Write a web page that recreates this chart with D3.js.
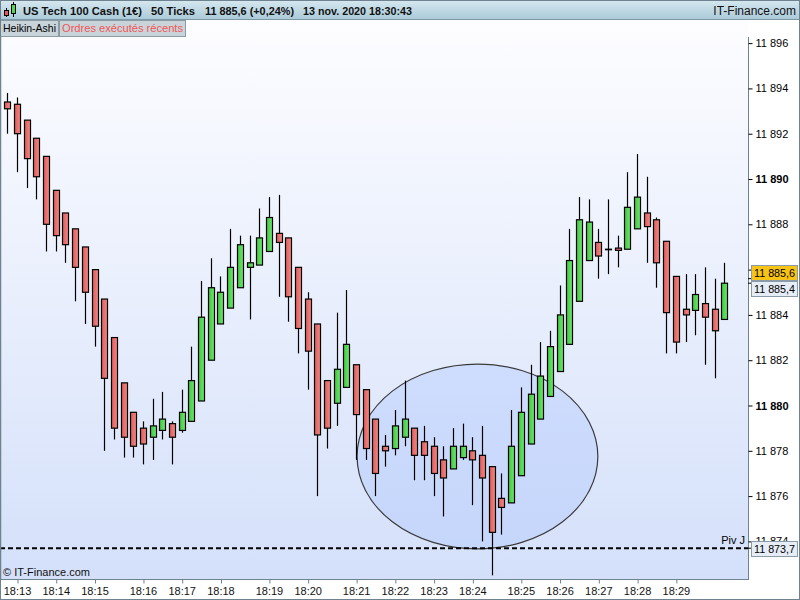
<!DOCTYPE html>
<html><head><meta charset="utf-8">
<script src="https://cdn.jsdelivr.net/npm/d3@7"></script>
<style>body{margin:0;background:#fff;}svg{display:block;font-family:Arial,"Liberation Sans",sans-serif;}</style>
</head><body><svg id="c" width="800" height="600"></svg>
<script>
// ---- data (Heikin-Ashi candles, 50 ticks each) ----
const opens = [11893.4,11893.3,11892.6,11891.8,11891.0,11889.5,11888.5,11887.8,11887.0,11886.0,
11884.7,11883.0,11881.0,11879.7,11879.0,11878.6,11878.9,11879.2,11878.9,11879.3,
11880.2,11882.0,11883.6,11884.3,11885.2,11886.1,11886.2,11886.8,11887.6,11887.4,
11886.1,11884.7,11883.6,11881.1,11880.1,11880.8,11881.8,11880.7,11879.4,11878.2,
11878.1,11878.6,11879.0,11878.4,11878.2,11877.6,11877.2,11877.7,11878.0,11877.8,
11877.3,11875.9,11875.7,11876.9,11878.3,11879.4,11880.4,11881.5,11882.7,11884.6,
11886.4,11887.2,11886.9,11886.95,11886.9,11887.8,11888.5,11888.2,11887.25,11885.7,
11884.25,11884.2,11884.5,11884.25,11883.8];
const closes = [11893.1,11892.0,11890.9,11890.1,11888.0,11887.5,11887.1,11886.1,11885.0,11883.5,
11881.2,11879.0,11878.6,11878.2,11878.3,11879.1,11879.4,11878.6,11879.7,11881.1,
11883.9,11885.2,11885.0,11886.1,11887.1,11886.3,11887.4,11888.3,11887.2,11884.8,
11883.4,11882.4,11878.7,11879.0,11881.6,11882.7,11879.6,11878.1,11877.0,11878.0,
11879.1,11879.4,11877.8,11877.8,11877.0,11876.8,11878.2,11878.2,11877.6,11876.8,
11874.4,11875.5,11878.2,11879.7,11880.5,11881.3,11882.6,11884.0,11886.4,11888.2,
11888.1,11886.6,11886.9,11886.85,11888.75,11889.2,11887.9,11886.3,11884.1,11882.8,
11884.0,11884.9,11883.9,11883.3,11885.4];
const highs = [11893.8,11893.6,11892.6,11891.8,11891.0,11889.5,11888.5,11887.8,11887.0,11886.0,
11884.7,11883.0,11881.0,11879.7,11879.3,11880.3,11880.6,11879.3,11880.7,11882.6,
11885.5,11886.5,11885.7,11887.8,11887.5,11887.5,11888.7,11889.2,11889.3,11887.4,
11886.1,11885.0,11883.6,11881.1,11884.1,11885.1,11881.8,11880.7,11879.4,11878.7,
11879.8,11881.1,11879.0,11879.1,11878.6,11878.2,11879.0,11879.2,11878.6,11879.1,
11877.3,11877.0,11879.8,11880.8,11881.8,11882.8,11883.3,11885.3,11887.8,11889.2,
11889.1,11887.8,11889.1,11887.5,11890.3,11891.1,11890.1,11888.3,11887.25,11885.7,
11885.8,11885.8,11886.1,11885.6,11886.3];
const lows = [11892.0,11890.3,11889.6,11889.1,11886.8,11886.8,11886.3,11884.6,11883.6,11882.6,
11878.0,11878.5,11877.7,11877.7,11877.4,11877.6,11878.5,11877.4,11878.8,11879.3,
11880.2,11882.0,11883.6,11884.3,11885.2,11883.8,11886.2,11886.8,11884.8,11883.7,
11882.3,11880.7,11876.0,11878.1,11879.1,11880.8,11877.6,11877.6,11876.0,11877.3,
11877.8,11878.2,11876.7,11876.7,11876.0,11875.1,11877.2,11877.6,11875.6,11874.0,
11872.5,11874.3,11875.7,11876.9,11878.3,11879.4,11880.4,11881.5,11882.7,11884.6,
11886.4,11885.6,11885.8,11886.1,11886.9,11887.8,11886.3,11885.2,11882.3,11882.3,
11882.8,11883.1,11881.8,11881.2,11883.8];
const tickIndex = [1,5,9,14,18,22,27,31,36,40,44,48,53,57,61,65,69];
const tickLabels = ["18:13","18:14","18:15","18:16","18:17","18:18","18:19","18:20","18:21","18:22","18:23","18:24","18:25","18:26","18:27","18:28","18:29"];
const priceTicks = [11874,11876,11878,11880,11882,11884,11886,11888,11890,11892,11894,11896];
const hiddenPriceLabels = [11886]; // covered by the last-price boxes in the reference
const lastPrice = 11885.6, lastClose = 11885.4, pivot = 11873.7;
// annotation ellipse (candle index range, price range)
const ellipseIdx = [36.1, 60.95], ellipsePrice = [11873.67, 11881.83];

// ---- layout ----
const svg = d3.select("#c");
const W = 800, H = 600, plotL = 0, plotR = 748, plotT = 20, plotB = 579;
const x = d3.scaleLinear().domain([0, opens.length - 1]).range([7.3, 724.3]);
const y = d3.scaleLinear().domain([11872.34, 11896.27]).range([plotB, 37]);
const fmt = v => d3.format(",.1f")(v).replace(/,/g, " ").replace(".", ",");
const fmtInt = v => d3.format(",d")(v).replace(/,/g, " ");

const defs = svg.append("defs");
const bg = defs.append("linearGradient").attr("id","bg").attr("x1",0).attr("y1",0).attr("x2",0).attr("y2",1);
bg.append("stop").attr("offset",0).attr("stop-color","#fdfdff");
bg.append("stop").attr("offset",1).attr("stop-color","#d4e0fa");
const hd = defs.append("linearGradient").attr("id","hd").attr("x1",0).attr("y1",0).attr("x2",0).attr("y2",1);
hd.append("stop").attr("offset",0).attr("stop-color","#d6e8f0");
hd.append("stop").attr("offset",1).attr("stop-color","#a9c9d8");
const gr = defs.append("linearGradient").attr("id","gup").attr("x1",0).attr("x2",1);
gr.append("stop").attr("offset",0).attr("stop-color","#3cc93c");
gr.append("stop").attr("offset",1).attr("stop-color","#72e672");
const rd = defs.append("linearGradient").attr("id","gdn").attr("x1",0).attr("x2",1);
rd.append("stop").attr("offset",0).attr("stop-color","#e05a5a");
rd.append("stop").attr("offset",1).attr("stop-color","#f28a86");
defs.append("clipPath").attr("id","clip").append("rect").attr("x",plotL).attr("y",plotT).attr("width",plotR-plotL).attr("height",plotB-plotT);

// backgrounds
svg.append("rect").attr("width",W).attr("height",H).attr("fill","#fff");
svg.append("rect").attr("x",plotL).attr("y",plotT).attr("width",plotR-plotL).attr("height",plotB-plotT).attr("fill","url(#bg)");

const plot = svg.append("g").attr("clip-path","url(#clip)");

// ellipse annotation
plot.append("ellipse")
  .attr("cx",(x(ellipseIdx[0])+x(ellipseIdx[1]))/2)
  .attr("cy",(y(ellipsePrice[0])+y(ellipsePrice[1]))/2)
  .attr("rx",(x(ellipseIdx[1])-x(ellipseIdx[0]))/2)
  .attr("ry",(y(ellipsePrice[0])-y(ellipsePrice[1]))/2)
  .attr("fill","rgba(160,190,255,0.3)").attr("stroke","#3a3a3a").attr("stroke-width",1.2);

// candles
const data = opens.map((o,i)=>({i,o,c:closes[i],h:highs[i],l:lows[i]}));
const cg = plot.selectAll("g.c").data(data).join("g").attr("class","c");
cg.append("line")
  .attr("x1",d=>Math.round(x(d.i))+0.5).attr("x2",d=>Math.round(x(d.i))+0.5)
  .attr("y1",d=>y(d.h)).attr("y2",d=>y(d.l)).attr("stroke","#000").attr("stroke-width",1.2);
cg.append("rect")
  .attr("x",d=>Math.round(x(d.i))-2.5).attr("width",6)
  .attr("y",d=>y(Math.max(d.o,d.c)))
  .attr("height",d=>Math.max(0.5, Math.abs(y(d.o)-y(d.c))))
  .attr("fill",d=>d.c>d.o?"url(#gup)":(d.c<d.o?"url(#gdn)":"#000"))
  .attr("stroke","#000").attr("stroke-width",1.2);

// pivot dashed line
svg.append("line").attr("x1",0).attr("x2",plotR).attr("y1",y(pivot)).attr("y2",y(pivot))
  .attr("stroke","#000").attr("stroke-width",2).attr("stroke-dasharray","5,3");
svg.append("text").attr("x",745).attr("y",y(pivot)-4).attr("text-anchor","end")
  .attr("font-size",11).attr("fill","#000").text("Piv J");

// copyright
svg.append("text").attr("x",3).attr("y",576).attr("font-size",11).attr("fill","#111").text("© IT-Finance.com");

// plot borders
svg.append("line").attr("x1",0.5).attr("x2",0.5).attr("y1",20).attr("y2",plotB).attr("stroke","#6f8290").attr("stroke-width",1.5);
svg.append("line").attr("x1",plotR+0.5).attr("x2",plotR+0.5).attr("y1",37).attr("y2",plotB).attr("stroke","#6f8290");
svg.append("line").attr("x1",0).attr("x2",plotR+1).attr("y1",plotB+0.5).attr("y2",plotB+0.5).attr("stroke","#6f8290");

// right axis
const ya = svg.append("g").attr("transform",`translate(${plotR+0.5},0)`)
  .call(d3.axisRight(y).tickValues(priceTicks).tickSize(4).tickPadding(3)
    .tickFormat(d=>hiddenPriceLabels.includes(d)?"":fmtInt(d)));
ya.select(".domain").remove();
ya.selectAll("line").attr("stroke","#000");
ya.selectAll("text").attr("font-size",11).attr("font-family","Arial, 'Liberation Sans', sans-serif").attr("fill","#000")
  .attr("font-weight",d=>d%10===0?"bold":"normal");

// bottom axis
const xa = svg.append("g").attr("transform",`translate(0,${plotB+0.5})`)
  .call(d3.axisBottom(x).tickValues(tickIndex).tickSize(4).tickPadding(4).tickFormat((d,i)=>tickLabels[i]));
xa.select(".domain").remove();
xa.selectAll("line").attr("stroke","#6f8290").attr("transform","translate(0.5,0)");
xa.selectAll("text").attr("font-size",11).attr("font-family","Arial, 'Liberation Sans', sans-serif").attr("fill","#111");

// price labels
function priceBox(v, yTop, fill, border){
  svg.append("line").attr("x1",plotR).attr("x2",plotR+4).attr("y1",y(v)).attr("y2",y(v)).attr("stroke","#000");
  svg.append("rect").attr("x",751.5).attr("y",yTop+0.5).attr("width",46).attr("height",15).attr("fill",fill).attr("stroke",border);
  svg.append("text").attr("x",754).attr("y",yTop+12).attr("font-size",11).attr("fill","#000")
    .attr("textLength",41).attr("lengthAdjust","spacingAndGlyphs").text(fmt(v));
}
priceBox(lastPrice, 265, "#f7c314", "#8a9aa6");
priceBox(lastClose, 281, "#e6edf7", "#8a9aa6");
priceBox(pivot, 541, "#e6edf7", "#8a9aa6");

// header
svg.append("rect").attr("x",0).attr("y",0).attr("width",W).attr("height",20).attr("fill","url(#hd)");
svg.append("line").attr("x1",0).attr("x2",W).attr("y1",19.5).attr("y2",19.5).attr("stroke","#7e98a6");
// icon
svg.append("line").attr("x1",6.5).attr("x2",6.5).attr("y1",8).attr("y2",17).attr("stroke","#000");
svg.append("rect").attr("x",4.5).attr("y",10.5).attr("width",4).attr("height",5).attr("fill","#e05a5a").attr("stroke","#000");
svg.append("line").attr("x1",13.5).attr("x2",13.5).attr("y1",2).attr("y2",17).attr("stroke","#000");
svg.append("rect").attr("x",11.5).attr("y",4.5).attr("width",4).attr("height",9).attr("fill","#4cd94c").attr("stroke","#000");
const ht = [["US Tech 100 Cash (1€)",23,119],["50 Ticks",151,44],["11 885,6 (+0,24%)",205,89],["13 nov. 2020 18:30:43",303,109]];
svg.selectAll("text.h").data(ht).join("text").attr("class","h").attr("x",d=>d[1]).attr("y",15)
  .attr("font-size",11.5).attr("font-weight","bold").attr("fill","#111")
  .attr("textLength",d=>d[2]).attr("lengthAdjust","spacingAndGlyphs").text(d=>d[0]);
svg.append("text").attr("x",796).attr("y",15).attr("text-anchor","end").attr("font-size",12).attr("fill","#111").text("IT-Finance.com");

// tabs
svg.append("rect").attr("x",0.5).attr("y",20.5).attr("width",58).attr("height",16).attr("fill","#c9d4da").attr("stroke","#8c9ca6");
svg.append("rect").attr("x",59.5).attr("y",20.5).attr("width",126).attr("height",16).attr("fill","#c9d4da").attr("stroke","#8c9ca6");
svg.append("text").attr("x",3).attr("y",32).attr("font-size",11).attr("fill","#000")
  .attr("textLength",53).attr("lengthAdjust","spacingAndGlyphs").text("Heikin-Ashi");
svg.append("text").attr("x",62).attr("y",32).attr("font-size",11).attr("fill","#f05656")
  .attr("textLength",121).attr("lengthAdjust","spacingAndGlyphs").text("Ordres exécutés récents");

// outer frame
svg.append("rect").attr("x",0.5).attr("y",0.5).attr("width",W-1).attr("height",H-1).attr("fill","none").attr("stroke","#6f8290");
</script></body></html>
